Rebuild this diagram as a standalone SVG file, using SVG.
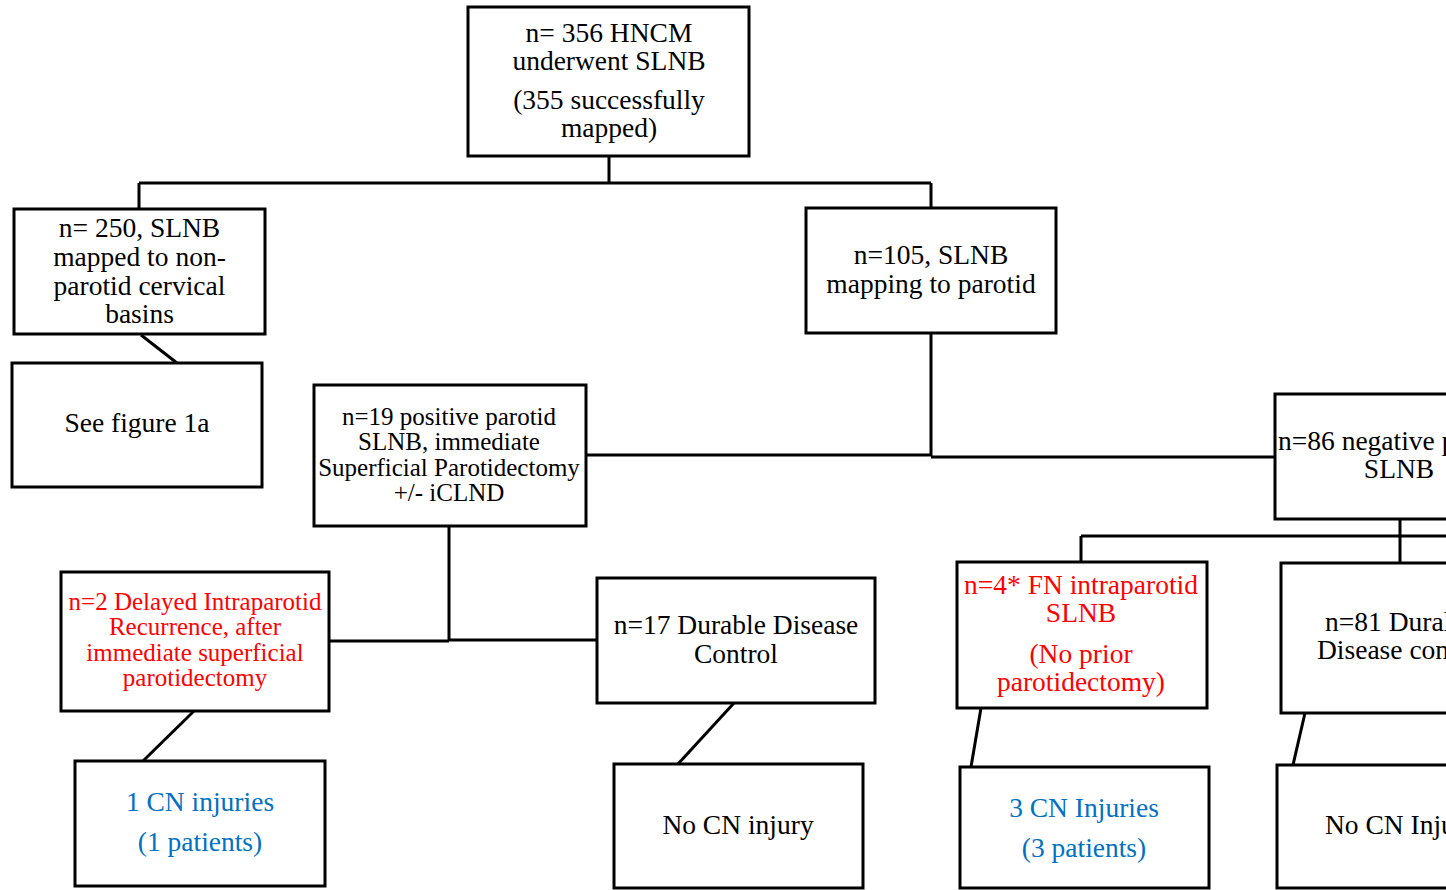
<svg xmlns="http://www.w3.org/2000/svg" width="1446" height="890" viewBox="0 0 1446 890">
<style>
.box{fill:#fff;stroke:#000;stroke-width:3}
.ln{fill:none;stroke:#000;stroke-width:3}
text{font-family:"Liberation Serif","Times New Roman",serif;font-size:27.5px;fill:#000;text-anchor:middle}
.sm{font-size:25px}
.red{fill:#ff0000}
.blue{fill:#0070c0}
.st{text-anchor:start}
</style>
<rect width="1446" height="890" fill="#fff"/>
<g id="connectors">
<path class="ln" d="M609 156V183M139 183H931M139 183V209M931 183V208"/>
<path class="ln" d="M141 335L177 363"/>
<path class="ln" d="M931 334V456M586 455H931M931 457H1275"/>
<path class="ln" d="M449 526V641M329 641H449M449 640H597"/>
<path class="ln" d="M194 711L143 761"/>
<path class="ln" d="M734 703L678 764"/>
<path class="ln" d="M1400 519V563M1081 536H1446M1081 536V562"/>
<path class="ln" d="M981 708L971 767"/>
<path class="ln" d="M1305 713L1293 765"/>
</g>
<g id="n356">
<rect class="box" x="468" y="7" width="281" height="149"/>
<text x="609" y="42">n= 356 HNCM</text>
<text x="609" y="70">underwent SLNB</text>
<text x="609" y="109">(355 successfully</text>
<text x="609" y="137">mapped)</text>
</g>
<g id="n250">
<rect class="box" x="14" y="209" width="251" height="125"/>
<text x="139.5" y="237">n= 250, SLNB</text>
<text x="139.5" y="266">mapped to non-</text>
<text x="139.5" y="295">parotid cervical</text>
<text x="139.5" y="323">basins</text>
</g>
<g id="fig1a">
<rect class="box" x="12" y="363" width="250" height="124"/>
<text x="137" y="432">See figure 1a</text>
</g>
<g id="n105">
<rect class="box" x="806" y="208" width="250" height="125"/>
<text x="931" y="264">n=105, SLNB</text>
<text x="931" y="293">mapping to parotid</text>
</g>
<g id="n19">
<rect class="box" x="314" y="385" width="272" height="141"/>
<text class="sm" x="449" y="425">n=19 positive parotid</text>
<text class="sm" x="449" y="450">SLNB, immediate</text>
<text class="sm" x="449" y="476">Superficial Parotidectomy</text>
<text class="sm" x="449" y="501">+/- iCLND</text>
</g>
<g id="n86">
<rect class="box" x="1275" y="394" width="260" height="125"/>
<text class="st" x="1278" y="450">n=86 negative p</text>
<text x="1399" y="478">SLNB</text>
</g>
<g id="n2">
<rect class="box" x="61" y="572" width="268" height="139"/>
<text class="sm red" x="195" y="610">n=2 Delayed Intraparotid</text>
<text class="sm red" x="195" y="635">Recurrence, after</text>
<text class="sm red" x="195" y="661">immediate superficial</text>
<text class="sm red" x="195" y="686">parotidectomy</text>
</g>
<g id="n17">
<rect class="box" x="597" y="578" width="278" height="125"/>
<text x="736" y="634">n=17 Durable Disease</text>
<text x="736" y="663">Control</text>
</g>
<g id="n4">
<rect class="box" x="957" y="562" width="250" height="146"/>
<text class="red" x="1081" y="594">n=4* FN intraparotid</text>
<text class="red" x="1081" y="622">SLNB</text>
<text class="red" x="1081" y="663">(No prior</text>
<text class="red" x="1081" y="691">parotidectomy)</text>
</g>
<g id="n81">
<rect class="box" x="1281" y="563" width="260" height="150"/>
<text class="st" x="1325" y="631">n=81 Dural</text>
<text class="st" x="1317" y="659">Disease con</text>
</g>
<g id="cn1">
<rect class="box" x="75" y="761" width="250" height="125"/>
<text class="blue" x="200" y="811">1 CN injuries</text>
<text class="blue" x="200" y="851">(1 patients)</text>
</g>
<g id="nocn17">
<rect class="box" x="614" y="764" width="249" height="124"/>
<text x="738" y="834">No CN injury</text>
</g>
<g id="cn3">
<rect class="box" x="960" y="767" width="249" height="121"/>
<text class="blue" x="1084" y="817">3 CN Injuries</text>
<text class="blue" x="1084" y="857">(3 patients)</text>
</g>
<g id="nocn81">
<rect class="box" x="1277" y="765" width="260" height="123"/>
<text class="st" x="1325" y="834">No CN Inju</text>
</g>
</svg>
